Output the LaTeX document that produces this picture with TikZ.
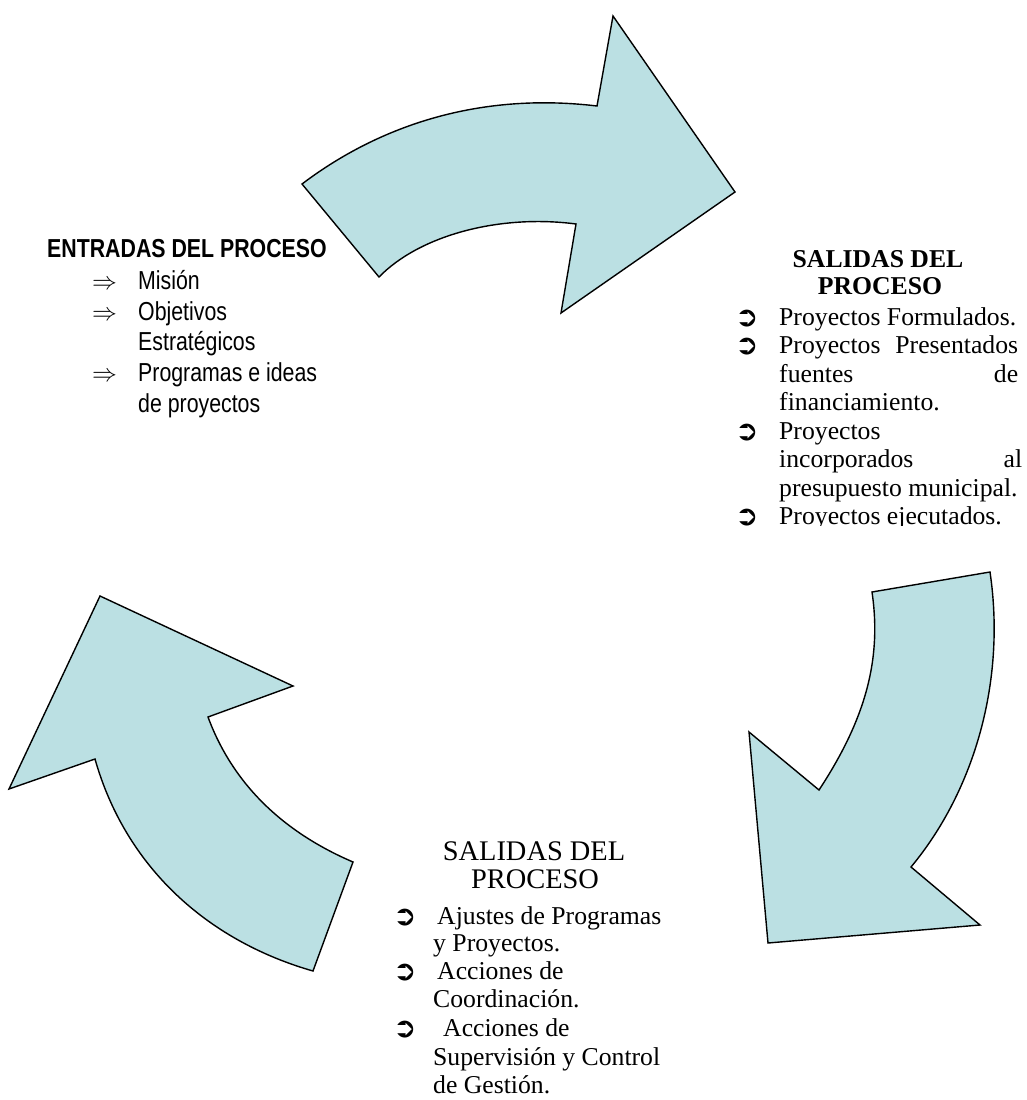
\documentclass[tikz,border=0pt]{standalone}
\usepackage{fontspec}
\setmainfont{Liberation Serif}
\newfontfamily\narrowsans[FakeStretch=0.82]{Liberation Sans}
\newfontfamily\symfont{DejaVu Sans}
\definecolor{arrowblue}{RGB}{187,224,227}
\tikzset{
  bigarrow/.style={draw=black, line width=1.4pt, fill=arrowblue, line join=miter},
  lefttxt/.style={anchor=base west, inner sep=0pt, font=\narrowsans\fontsize{26}{31}\selectfont},
  lefttitle/.style={anchor=base west, inner sep=0pt, font=\narrowsans\bfseries\fontsize{26}{31}\selectfont},
  implies/.style={anchor=base west, inner sep=0pt, font=\fontsize{24}{24}\selectfont},
  serifline/.style={anchor=base west, inner sep=0pt, font=\fontsize{25.7}{29}\selectfont},
  seriftitle/.style={anchor=base, inner sep=0pt, font=\bfseries\fontsize{25.7}{29}\selectfont},
  bigtitle/.style={anchor=base, inner sep=0pt, font=\fontsize{28.4}{32}\selectfont},
  bul/.style={anchor=base west, inner sep=0pt, yshift=-1pt, font=\symfont\fontsize{28}{28}\selectfont},
}
\begin{document}
\begin{tikzpicture}[x=1pt,y=-1pt]
\useasboundingbox (0,0) rectangle (1026,1100);

% top arrow
\draw[bigarrow] (302,184) .. controls (380,125) and (480,92) .. (597,106)
  -- (613,16) -- (735,192) -- (561,313) -- (576,224)
  .. controls (500,214) and (420,235) .. (379,277)
  -- cycle;

% right arrow
\draw[bigarrow] (990,572) -- (872,592)
  .. controls (882,660) and (865,720) .. (819,790)
  -- (749,732) -- (768,943) -- (980,925) -- (911,867)
  .. controls (975,790) and (1006,680) .. (990,572)
  -- cycle;

% left arrow
\draw[bigarrow] (100,596) -- (293,686) -- (208,717)
  .. controls (235,790) and (290,835) .. (353,862)
  -- (313,971)
  .. controls (205,940) and (125,865) .. (95,759)
  -- (9,789) -- cycle;

% left text
\node[lefttitle] (entT) at (47,257) {ENTRADAS DEL PROCESO};
\node[implies] (eb1) at (92,289) {$\Rightarrow$};
\node[lefttxt] (e1) at (138,289) {Misión};
\node[implies] (eb2) at (92,320) {$\Rightarrow$};
\node[lefttxt] (e2) at (138,320) {Objetivos};
\node[lefttxt] (e2b) at (138,350) {Estratégicos};
\node[implies] (eb3) at (92,381) {$\Rightarrow$};
\node[lefttxt] (e3) at (138,381) {Programas e ideas};
\node[lefttxt] (e3b) at (138,412) {de proyectos};

% right text (clipped at bottom)
\begin{scope}
\clip (680,225) rectangle (1026,525);
\node[seriftitle] (rT1) at (878,267) {SALIDAS DEL};
\node[seriftitle] (rT2) at (880,294) {PROCESO};
\node[bul] (rb1) at (735,325) {➲};
\node[serifline] (r1) at (779,325) {Proyectos Formulados.};
\node[bul] (rb2) at (735,353.5) {➲};
\node[serifline] (r2) at (779,353.5) {\makebox[239pt][s]{Proyectos Presentados}};
\node[serifline] (r2b) at (779,382) {\makebox[239pt][s]{fuentes de}};
\node[serifline] (r2c) at (779,410.5) {financiamiento.};
\node[bul] (rb3) at (735,439) {➲};
\node[serifline] (r3) at (779,439) {Proyectos};
\node[serifline] (r3b) at (779,467.5) {\makebox[243pt][s]{incorporados al}};
\node[serifline] (r3c) at (779,496) {presupuesto municipal.};
\node[bul] (rb4) at (735,524.5) {➲};
\node[serifline] (r4) at (779,524.5) {Proyectos ejecutados.};
\end{scope}

% bottom text
\node[bigtitle] (bT1) at (534,860) {SALIDAS DEL};
\node[bigtitle] (bT2) at (535,888) {PROCESO};
\node[bul] (bb1) at (393,924) {➲};
\node[serifline] (b1) at (437,924) {Ajustes de Programas};
\node[serifline] (b1b) at (433,951) {y Proyectos.};
\node[bul] (bb2) at (393,979) {➲};
\node[serifline] (b2) at (437,979) {Acciones de};
\node[serifline] (b2b) at (433,1007) {Coordinación.};
\node[bul] (bb3) at (393,1036) {➲};
\node[serifline] (b3) at (443,1036) {Acciones de};
\node[serifline] (b3b) at (433,1065) {Supervisión y Control};
\node[serifline] (b3c) at (433,1093) {de Gestión.};
\end{tikzpicture}
\end{document}
